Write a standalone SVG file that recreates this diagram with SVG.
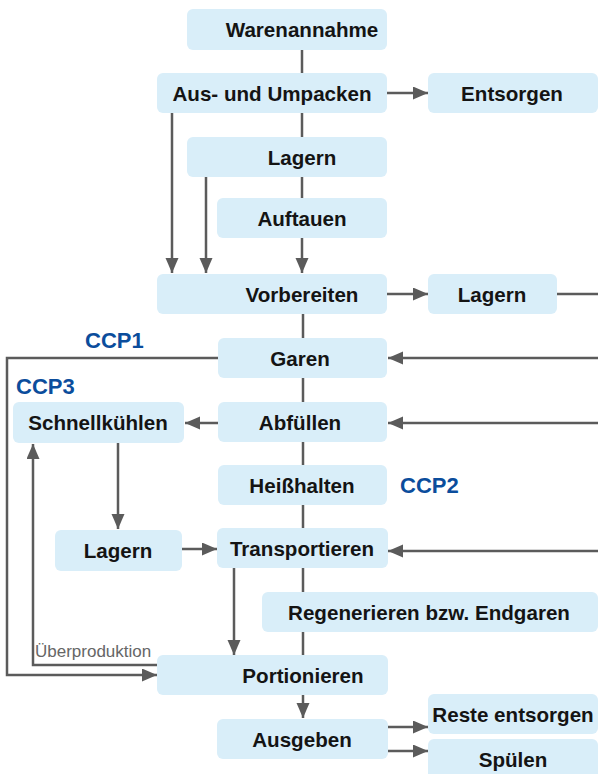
<svg xmlns="http://www.w3.org/2000/svg" width="598" height="774" viewBox="0 0 598 774">
<style>
.b{fill:#d9eef9}
.t{font-family:"Liberation Sans",Arial,sans-serif;font-weight:bold;font-size:20.6px;fill:#141414;text-anchor:middle}
.c{font-family:"Liberation Sans",Arial,sans-serif;font-weight:bold;font-size:22px;fill:#0b4d9c}
.l{fill:none;stroke:#5b5b5b;stroke-width:2.5}
.a{marker-end:url(#ah)}
.u{font-family:"Liberation Sans",Arial,sans-serif;font-size:17px;fill:#666}
</style>
<defs>
<marker id="ah" markerUnits="userSpaceOnUse" markerWidth="16" markerHeight="14" refX="15" refY="6.5" orient="auto">
<path d="M0,0 L15,6.5 L0,13 z" fill="#5b5b5b"/>
</marker>
</defs>
<rect width="598" height="774" fill="#fff"/>
<g id="connectors">
<path class="l" d="M302,50V73"/>
<path class="l" d="M302,113V137"/>
<path class="l" d="M302,177V198"/>
<path class="l a" d="M302,238V273"/>
<path class="l a" d="M172,113V273"/>
<path class="l a" d="M206,177V273"/>
<path class="l a" d="M387,93H428"/>
<path class="l a" d="M387,294H428"/>
<path class="l" d="M557,294H598"/>
<path class="l a" d="M598,358H388"/>
<path class="l a" d="M218,358H7V675H157"/>
<path class="l" d="M303,314V338"/>
<path class="l" d="M303,378V402"/>
<path class="l a" d="M218,423H185"/>
<path class="l a" d="M598,423H388"/>
<path class="l" d="M303,442V465"/>
<path class="l" d="M303,505V528"/>
<path class="l a" d="M118,443V529"/>
<path class="l a" d="M182,549H217"/>
<path class="l a" d="M598,551H388"/>
<path class="l" d="M303,568V592"/>
<path class="l" d="M303,632V655"/>
<path class="l a" d="M234,568V655"/>
<path class="l a" d="M157,665H33V444"/>
<path class="l a" d="M303,695V718"/>
<path class="l a" d="M388,727H428"/>
<path class="l a" d="M388,751H428"/>
</g>
<g id="warenannahme"><rect class="b" x="187" y="9" width="200" height="41" rx="6"/><text class="t" x="302" y="37">Warenannahme</text></g>
<g id="auspacken"><rect class="b" x="157" y="73" width="230" height="40" rx="6"/><text class="t" x="272" y="101">Aus- und Umpacken</text></g>
<g id="entsorgen"><rect class="b" x="428" y="73" width="170" height="40" rx="6"/><text class="t" x="512" y="101">Entsorgen</text></g>
<g id="lagern1"><rect class="b" x="187" y="137" width="200" height="40" rx="6"/><text class="t" x="302" y="165">Lagern</text></g>
<g id="auftauen"><rect class="b" x="217" y="198" width="170" height="40" rx="6"/><text class="t" x="302" y="226">Auftauen</text></g>
<g id="vorbereiten"><rect class="b" x="157" y="274" width="230" height="40" rx="6"/><text class="t" x="302" y="302">Vorbereiten</text></g>
<g id="lagern2"><rect class="b" x="428" y="274" width="129" height="40" rx="6"/><text class="t" x="492" y="302">Lagern</text></g>
<g id="garen"><rect class="b" x="218" y="338" width="169" height="40" rx="6"/><text class="t" x="300" y="366">Garen</text></g>
<g id="schnellkuehlen"><rect class="b" x="13" y="402" width="171" height="41" rx="6"/><text class="t" x="98" y="430">Schnellkühlen</text></g>
<g id="abfuellen"><rect class="b" x="218" y="402" width="169" height="40" rx="6"/><text class="t" x="300" y="430">Abfüllen</text></g>
<g id="heisshalten"><rect class="b" x="218" y="465" width="169" height="40" rx="6"/><text class="t" x="302" y="493">Heißhalten</text></g>
<g id="lagern3"><rect class="b" x="55" y="530" width="127" height="41" rx="6"/><text class="t" x="118" y="558">Lagern</text></g>
<g id="transportieren"><rect class="b" x="217" y="528" width="171" height="40" rx="6"/><text class="t" x="302" y="556">Transportieren</text></g>
<g id="regenerieren"><rect class="b" x="262" y="592" width="336" height="40" rx="6"/><text class="t" x="429" y="620">Regenerieren bzw. Endgaren</text></g>
<g id="portionieren"><rect class="b" x="157" y="655" width="231" height="40" rx="6"/><text class="t" x="303" y="683">Portionieren</text></g>
<g id="ausgeben"><rect class="b" x="217" y="719" width="171" height="40" rx="6"/><text class="t" x="302" y="747">Ausgeben</text></g>
<g id="reste"><rect class="b" x="428" y="694" width="170" height="40" rx="6"/><text class="t" x="513" y="722">Reste entsorgen</text></g>
<g id="spuelen"><rect class="b" x="428" y="739" width="170" height="40" rx="6"/><text class="t" x="513" y="767">Spülen</text></g>
<g id="labels">
<text class="c" x="85" y="348">CCP1</text>
<text class="c" x="16" y="394">CCP3</text>
<text class="c" x="400" y="493">CCP2</text>
<text class="u" x="35" y="657">Überproduktion</text>
</g>
</svg>
